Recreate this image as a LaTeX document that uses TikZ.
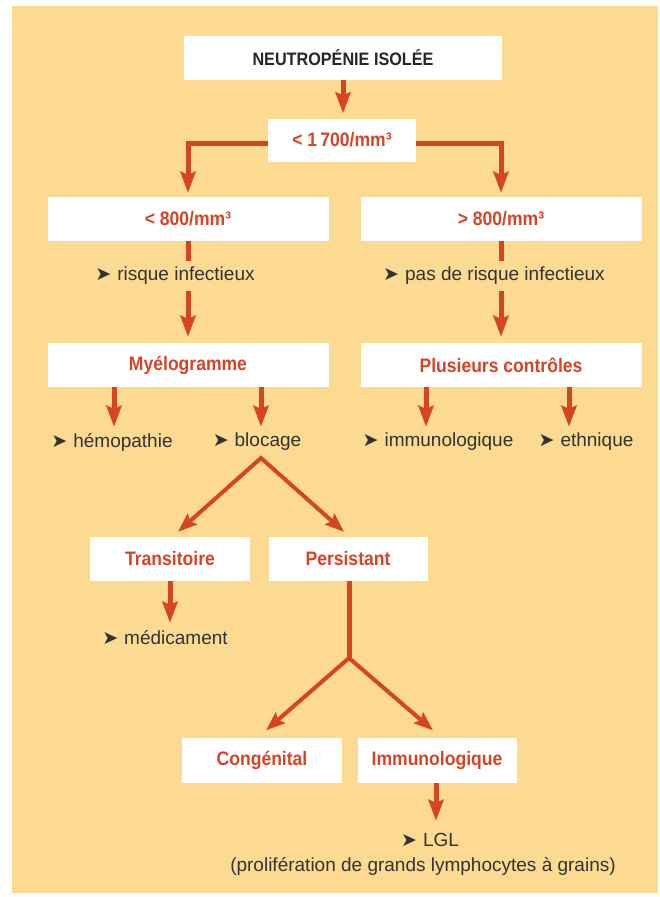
\documentclass[tikz,border=0pt]{standalone}
\usepackage{fontspec}
\setmainfont{Liberation Sans}
\newfontfamily\boxfont[FakeStretch=0.9]{Liberation Sans}
\newfontfamily\symfont{DejaVu Sans}
\usepackage{tikz}
\usetikzlibrary{arrows.meta}
\definecolor{paper}{RGB}{252,218,145}
\definecolor{redline}{RGB}{214,68,38}
\newcommand{\pointer}{{\symfont\fontsize{19}{19}\selectfont ➤}\hspace{6pt}}

\begin{document}
\begin{tikzpicture}[x=1pt,y=-1pt]
      \tikzstyle{box} = [rectangle, fill=white, minimum height=44pt, inner sep=0pt, text=redline, font=\boxfont\bfseries\fontsize{19.5}{22}\selectfont]
      \tikzstyle{headbox} = [box, text=black!85, font=\boxfont\bfseries\fontsize{18}{22}\selectfont]
      \tikzstyle{note} = [inner sep=0pt, minimum height=30pt, text=black!80, font=\fontsize{19}{22}\selectfont]
      \tikzstyle{arrow} = [redline, line width=5pt, -{Stealth[length=21pt,width=15pt,inset=3pt]}]
      \tikzstyle{bar} = [redline, line width=5pt]
      \tikzstyle{vee} = [redline, line width=4pt, line join=miter, {Stealth[length=19pt,width=14pt,inset=3pt]}-{Stealth[length=19pt,width=14pt,inset=3pt]}]

      \useasboundingbox (0,0) rectangle (660,897);
      \fill [paper] (12,6) rectangle (658,893);

      \node (title) [headbox, minimum width=318pt] at (343,58) {NEUTROPÉNIE ISOLÉE};
      \node (lim) [box, minimum width=148pt, minimum height=43pt] at (342,140) {< 1\,700/mm³};
      \draw [arrow, shorten >=5pt] (title.south) -- (title.south |- lim.north);
      \node (low) [box, minimum width=281pt] at (188,219) {< 800/mm³};
      \node (high) [box, minimum width=281pt] at (501,219) {> 800/mm³};
      \draw [arrow, shorten >=4pt] ([yshift=-3pt]lim.west) -| (low.north);
      \draw [arrow, shorten >=4pt] ([yshift=-3pt]lim.east) -| (high.north);

      \node (risk1) [note] at (175,276) {\pointer risque infectieux};
      \node (risk2) [note] at (494,276) {\pointer pas de risque infectieux};
      \node (myelo) [box, minimum width=281pt] at (188,365) {Myélogramme};
      \node (ctrl) [box, minimum width=281pt] at (501,365) {Plusieurs contrôles};
      \draw [bar] (low.south) -- (low.south |- risk1.north);
      \draw [arrow, shorten >=6pt] (myelo.north |- risk1.south) -- (myelo.north);
      \draw [bar] (high.south) -- (high.south |- risk2.north);
      \draw [arrow, shorten >=6pt] (ctrl.north |- risk2.south) -- (ctrl.north);

      \node (hemo) [note] at (112,442) {\pointer hémopathie};
      \node (bloc) [note] at (257,442) {\pointer blocage};
      \node (immu) [note] at (438,442) {\pointer immunologique};
      \node (ethn) [note] at (586,442) {\pointer ethnique};
      \coordinate (hemo-in) at ([xshift=2pt]hemo.north);
      \coordinate (bloc-in) at ([xshift=4pt]bloc.north);
      \coordinate (immu-in) at ([xshift=-12pt]immu.north);
      \coordinate (ethn-in) at ([xshift=-17pt]ethn.north);
      \draw [arrow] (myelo.south -| hemo-in) -- (hemo-in);
      \draw [arrow] (myelo.south -| bloc-in) -- (bloc-in);
      \draw [arrow] (ctrl.south -| immu-in) -- (immu-in);
      \draw [arrow] (ctrl.south -| ethn-in) -- (ethn-in);

      % blocage
      \coordinate (apex) at (261,458);
      \node (trans) [box, minimum width=160pt] at (170,559) {Transitoire};
      \node (pers) [box, minimum width=159pt] at (348,559) {Persistant};
      \coordinate (trans-in) at ([xshift=8pt,yshift=5pt]trans.north);
      \coordinate (pers-in) at ([xshift=-4pt,yshift=5pt]pers.north);
      \draw [vee] (trans-in) -- (apex) -- (pers-in);

      \node (medic) [note] at (165,638) {\pointer médicament};
      \coordinate (medic-in) at ([xshift=5pt]medic.north);
      \draw [arrow] (trans.south -| medic-in) -- (medic-in);

      % persistant
      \coordinate (fork) at (349,658);
      \node (cong) [box, minimum width=160pt, minimum height=45pt] at (262,760) {Congénital};
      \node (immbox) [box, minimum width=159pt, minimum height=45pt] at (437,760) {Immunologique};
      \coordinate (cong-in) at ([xshift=4pt,yshift=7pt]cong.north);
      \coordinate (imm-in) at ([xshift=-4pt,yshift=7pt]immbox.north);
      \draw [bar] (pers.south -| fork) -- (fork);
      \draw [vee] (cong-in) -- (fork) -- (imm-in);

      \node (lgl) [note] at (430,840) {\pointer LGL};
      \node (prolif) [note, minimum height=0pt] at (423,866) {(prolifération de grands lymphocytes à grains)};
      \coordinate (lgl-in) at ([xshift=6pt,yshift=4pt]lgl.north);
      \draw [arrow] (immbox.south -| lgl-in) -- (lgl-in);

\end{tikzpicture}
\end{document}
